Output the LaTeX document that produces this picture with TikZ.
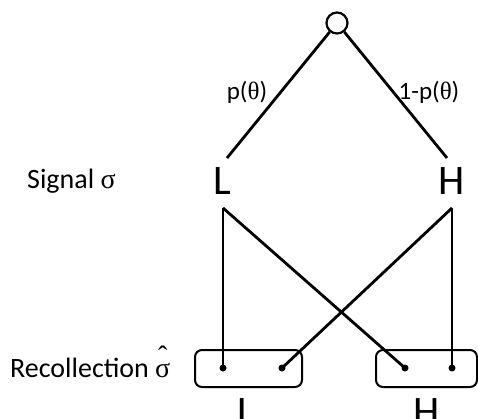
\documentclass[tikz,border=0pt]{standalone}
\usepackage{fontspec}
\setmainfont{Carlito}
\newfontfamily\greekfont{Liberation Serif}
\begin{document}
\begin{tikzpicture}[x=1pt,y=-1pt,
  wire/.style={line width=2.8pt,black},
  bigletter/.style={font=\fontsize{42}{42}\selectfont,anchor=base,inner sep=0pt},
  prob/.style={font=\fontsize{25}{25}\selectfont,inner sep=0pt},
  rowlabel/.style={font=\fontsize{28}{28}\selectfont,anchor=base,inner sep=0pt},
  memo/.style={draw,line width=2pt,rounded corners=7pt},
  dot/.style={circle,fill=black,inner sep=0pt,minimum size=7pt}]
\useasboundingbox (0,0) rectangle (478,419);
\clip (0,0) rectangle (478,419);

% root of the tree
\node[circle,draw,line width=2.2pt,minimum size=21pt,inner sep=0pt] (root) at (337,23) {};

% signal level
\node[bigletter] (sL) at (222,195) {L};
\node[bigletter] (sH) at (452,195) {H};
\coordinate (sLin) at (227,158);
\coordinate (sHin) at (447,158);
\coordinate (sLout) at (223,208);
\coordinate (sHout) at (452,208);

\draw[wire] (root) -- (sLin);
\draw[wire] (root) -- (sHin);
\node[prob] (pl) at (247,92) {p({\greekfont θ})};
\node[prob] (pr) at (429,92) {1-p({\greekfont θ})};

% recollection boxes
\node[memo,minimum width=107pt,minimum height=37pt] (boxL) at (248.5,368.5) {};
\node[memo,minimum width=101pt,minimum height=37pt] (boxH) at (426.5,368.5) {};
\node[dot] (dLL) at (223,368) {};
\node[dot] (dLH) at (282,368) {};
\node[dot] (dHL) at (405,368) {};
\node[dot] (dHH) at (452,368) {};

\draw[wire] (sLout) -- (dLL.center);
\draw[wire] (sLout) -- (dHL.center);
\draw[wire] (sHout) -- (dHH.center);
\draw[wire] (sHout) -- (dLH.center);

\node[bigletter] (rL) at (246,425) {L};
\node[bigletter] (rH) at (427,425) {H};

% row labels
\node[rowlabel,anchor=base west] (sig) at (27,189) {Signal {\greekfont σ}};
\node[rowlabel,anchor=base west] (rec) at (10,377) {Recollection {\greekfont\ooalign{σ\cr\hidewidth\raisebox{0.42em}{ˆ}\hidewidth\cr}}};
\end{tikzpicture}
\end{document}
